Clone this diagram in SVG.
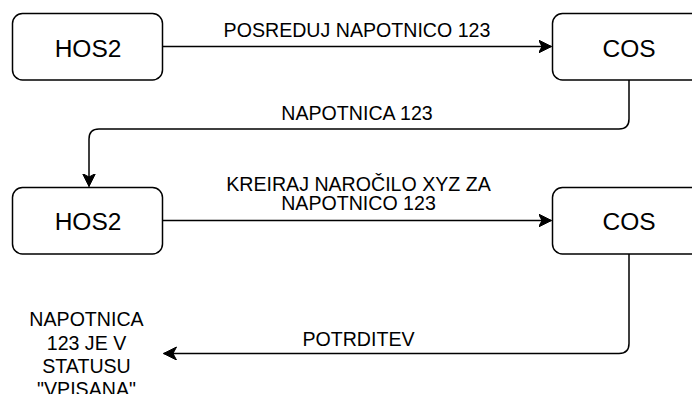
<svg xmlns="http://www.w3.org/2000/svg" width="692" height="394" viewBox="0 0 692 394">
  <style>
    .box { fill: #ffffff; stroke: #000000; stroke-width: 1.5; }
    .edge { fill: none; stroke: #000000; stroke-width: 1.5; }
    .node-label { font-family: "Liberation Sans", Helvetica, Arial, sans-serif; font-size: 24.5px; fill: #000000; text-anchor: middle; }
    .edge-label { font-family: "Liberation Sans", Helvetica, Arial, sans-serif; font-size: 19.6px; fill: #000000; text-anchor: middle; }
  </style>
  <defs>
    <marker id="arrow" markerUnits="userSpaceOnUse" markerWidth="14" markerHeight="14" viewBox="0 0 14 14" refX="13" refY="6.5" orient="auto">
      <path d="M0,0 L13,6.5 L0,13 L3.5,6.5 Z" fill="#000000" stroke="#000000" stroke-width="1"/>
    </marker>
  </defs>
  <rect width="692" height="394" fill="#ffffff"/>

  <g id="connectors">
    <path class="edge" d="M162.5 46.5 H551.5" marker-end="url(#arrow)"/>
    <path class="edge" d="M629 80 V119 Q629 129 619 129 H99 Q89 129 89 139 V186.5" marker-end="url(#arrow)"/>
    <path class="edge" d="M162.5 220.5 H551.5" marker-end="url(#arrow)"/>
    <path class="edge" d="M629 254 V343.5 Q629 353.5 619 353.5 H163.5" marker-end="url(#arrow)"/>
  </g>

  <g id="hos2-top">
    <rect class="box" x="12.5" y="13.5" width="150" height="66.5" rx="10" ry="10"/>
    <text class="node-label" x="88" y="56.5">HOS2</text>
  </g>
  <g id="cos-top">
    <rect class="box" x="552.5" y="13.5" width="153" height="66.5" rx="10" ry="10"/>
    <text class="node-label" x="629" y="56.5">COS</text>
  </g>
  <g id="hos2-bottom">
    <rect class="box" x="12.5" y="187.5" width="150" height="66.5" rx="10" ry="10"/>
    <text class="node-label" x="88" y="230">HOS2</text>
  </g>
  <g id="cos-bottom">
    <rect class="box" x="552.5" y="187.5" width="153" height="66.5" rx="10" ry="10"/>
    <text class="node-label" x="629" y="230">COS</text>
  </g>

  <g id="labels">
    <text class="edge-label" x="357" y="36.8">POSREDUJ NAPOTNICO 123</text>
    <text class="edge-label" x="357" y="120">NAPOTNICA 123</text>
    <text class="edge-label" x="358.5" y="190.8">KREIRAJ NAROČILO XYZ ZA</text>
    <text class="edge-label" x="358.5" y="209.5">NAPOTNICO 123</text>
    <text class="edge-label" x="358.5" y="346">POTRDITEV</text>
  </g>

  <g id="status-note">
    <text class="edge-label" x="86.5" y="326.3">NAPOTNICA</text>
    <text class="edge-label" x="86.5" y="349.6">123 JE V</text>
    <text class="edge-label" x="86.5" y="372.9">STATUSU</text>
    <text class="edge-label" x="86.5" y="396.2">"VPISANA"</text>
  </g>
</svg>
